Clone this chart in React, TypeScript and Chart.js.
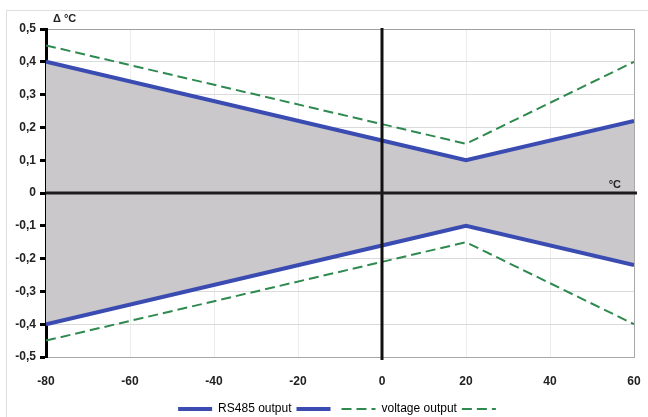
import React, { useEffect, useRef } from "react";
import { Chart, registerables } from "chart.js";

Chart.register(...registerables);

const temps = [-80, 0, 20, 60];
const rs485Upper = [0.4, 0.16, 0.1, 0.22];
const rs485Lower = [-0.4, -0.16, -0.1, -0.22];
const voltageUpper = [0.45, 0.21, 0.15, 0.4];
const voltageLower = [-0.45, -0.21, -0.15, -0.4];
const legendLabels = ["RS485 output", "", "voltage output", ""];
const yAxisTitle = "Δ °C";
const xAxisTitle = "°C";

const BLUE = "#3a4cb2";
const GREEN = "#2f8a50";
const FONT = "'Liberation Sans', Arial, sans-serif";

const pts = (ys: number[]) => temps.map((t, i) => ({ x: t, y: ys[i] }));

const fmt = (v: number) => {
  const r = Math.round(v * 10) / 10;
  if (r === 0) return "0";
  return r.toFixed(1).replace(".", ",");
};

const decor = {
  id: "decor",
  beforeDraw(chart: any) {
    const { ctx, width, height } = chart;
    ctx.save();
    ctx.fillStyle = "#fff";
    ctx.fillRect(0, 0, width, height);
    ctx.strokeStyle = "#dedede";
    ctx.lineWidth = 1;
    ctx.strokeRect(6.5, 10.5, width, height);
    ctx.restore();
  },
  afterDatasetsDraw(chart: any) {
    const { ctx, chartArea, scales } = chart;
    const x0 = scales.x.getPixelForValue(0);
    const y0 = scales.y.getPixelForValue(0);
    ctx.save();
    ctx.strokeStyle = "#111";
    ctx.lineWidth = 3;
    ctx.beginPath();
    ctx.moveTo(x0, chartArea.top - 1);
    ctx.lineTo(x0, chartArea.bottom + 3);
    ctx.stroke();
    ctx.strokeStyle = "#1c1c1c";
    ctx.beginPath();
    ctx.moveTo(chartArea.left, y0);
    ctx.lineTo(chartArea.right + 3, y0);
    ctx.stroke();
    ctx.fillStyle = "#222";
    ctx.font = `bold 11px ${FONT}`;
    ctx.textBaseline = "alphabetic";
    ctx.textAlign = "right";
    ctx.fillText(xAxisTitle, chartArea.right - 13, y0 - 5);
    ctx.textAlign = "left";
    ctx.fillText(yAxisTitle, chartArea.left + 7, chartArea.top - 7);
    ctx.restore();
  },
};

export default function App() {
  const ref = useRef<HTMLCanvasElement | null>(null);
  useEffect(() => {
    if (!ref.current) return;
    const chart = new Chart(ref.current, {
      type: "line",
      data: {
        datasets: [
          {
            data: pts(rs485Upper),
            borderColor: BLUE,
            borderWidth: 4,
            backgroundColor: "#cac8ca",
            fill: "+1",
            pointRadius: 0,
            tension: 0,
          },
          {
            data: pts(rs485Lower),
            borderColor: BLUE,
            borderWidth: 4,
            fill: false,
            pointRadius: 0,
            tension: 0,
          },
          {
            data: pts(voltageUpper),
            borderColor: GREEN,
            borderWidth: 2,
            borderDash: [10, 5],
            fill: false,
            pointRadius: 0,
            tension: 0,
          },
          {
            data: pts(voltageLower),
            borderColor: GREEN,
            borderWidth: 2,
            borderDash: [10, 5],
            fill: false,
            pointRadius: 0,
            tension: 0,
          },
        ],
      },
      options: {
        responsive: false,
        animation: false,
        events: [],
        layout: { padding: { top: 29, right: 14, left: 0, bottom: -8 } },
        plugins: {
          filler: { drawTime: "beforeDatasetsDraw" },
          tooltip: { enabled: false },
          legend: {
            position: "bottom",
            fullSize: false,
            labels: {
              usePointStyle: true,
              pointStyle: "line",
              pointStyleWidth: 34,
              padding: 5,
              color: "#222",
              font: { family: FONT, size: 12 },
              generateLabels: (chart: any) =>
                chart.data.datasets.map((ds: any, i: number) => ({
                  text: legendLabels[i],
                  fillStyle: ds.borderColor,
                  strokeStyle: ds.borderColor,
                  lineWidth: ds.borderWidth,
                  lineDash: ds.borderDash || [],
                  pointStyle: "line",
                  hidden: false,
                  datasetIndex: i,
                })),
            },
          },
        },
        scales: {
          x: {
            type: "linear",
            min: -80,
            max: 60,
            afterFit: (s: any) => {
              s.height = 41;
            },
            ticks: {
              stepSize: 20,
              padding: 0,
              color: "#222",
              font: { family: FONT, size: 12, weight: "bold" },
            },
            grid: {
              drawTicks: true,
              tickLength: 17,
              tickColor: "rgba(0,0,0,0)",
              color: (c: any) => (c.tick && c.tick.value === 60 ? "#a8a8a8" : c.tick && c.tick.value === 0 ? "rgba(0,0,0,0)" : "#ececec"),
              lineWidth: 1,
            },
            border: { display: true, color: "#a8a8a8", width: 1 },
          },
          y: {
            type: "linear",
            min: -0.5,
            max: 0.5,
            afterFit: (s: any) => {
              s.width = 46;
            },
            ticks: {
              stepSize: 0.1,
              padding: 4,
              color: "#222",
              font: { family: FONT, size: 12, weight: "bold" },
              callback: (v: any) => fmt(Number(v)),
            },
            grid: {
              tickLength: 6,
              tickWidth: 3,
              tickColor: "#000",
              color: (c: any) => {
                const v = c.tick ? Math.round(c.tick.value * 10) / 10 : null;
                if (v === 0) return "rgba(0,0,0,0)";
                if (v === 0.5 || v === -0.5) return "#a0a0a0";
                return "#dadada";
              },
              lineWidth: 1,
            },
            border: { display: true, color: "#000", width: 3 },
          },
        },
      },
      plugins: [decor],
    } as any);
    return () => chart.destroy();
  }, []);
  return (
    <div style={{ position: "fixed", left: 0, top: 0, width: 648, height: 417 }}>
      <canvas ref={ref} width={648} height={417} style={{ display: "block" }} />
    </div>
  );
}
